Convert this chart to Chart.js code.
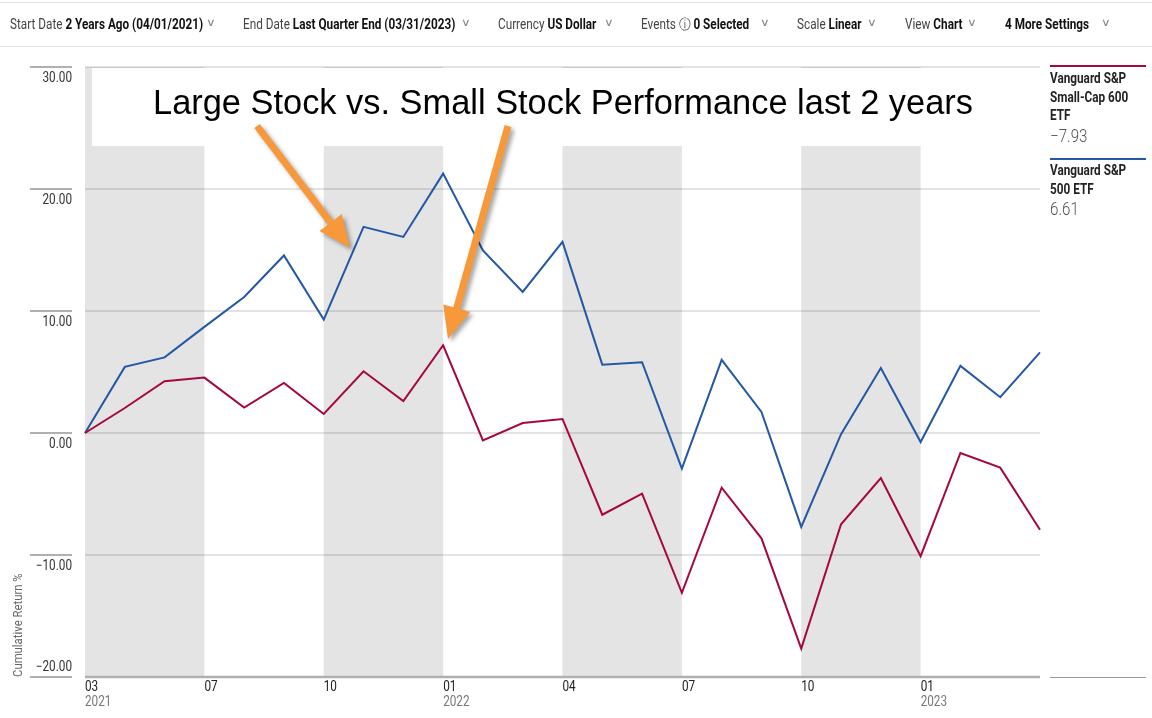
<!DOCTYPE html>
<html>
<head>
<meta charset="utf-8">
<script src="https://cdn.jsdelivr.net/npm/chart.js@4"></script>
<style>
  html, body { margin: 0; padding: 0; background: #fff; }
  body { width: 1152px; height: 718px; position: relative; overflow: hidden;
         font-family: Roboto, "Liberation Sans", sans-serif; }
  #wrap { position: absolute; left: 0; top: 0; width: 1152px; height: 718px; }
  .bar { position: absolute; left: 0; width: 1152px; height: 1px; background: #e3e3e3; }
  .tb { position: absolute; top: 16px; font-size: 14px; color: #444; white-space: nowrap;
        transform: scaleX(0.84); transform-origin: left top; }
  .tb b { color: #111; font-weight: 700; }
  .chev { position: absolute; top: 16px; font-size: 11px; color: #888; transform: scaleX(1.2); }
  .lg { position: absolute; left: 1050px; white-space: nowrap; color: #222;
        transform: scaleX(0.84); transform-origin: left top; }
  .lg .nm { font-size: 14px; font-weight: bold; line-height: 18.5px; }
  .lg .val { font-size: 18px; color: #555; font-weight: 300; }
  .lgbar { position: absolute; left: 1050px; width: 96px; height: 2px; }
</style>
</head>
<body>
<div id="wrap"><canvas id="chart" width="1152" height="718"></canvas></div>

<div class="bar" style="top:2px"></div>
<div class="bar" style="top:46px"></div>
<div class="tb" style="left:10px">Start Date <b>2 Years Ago (04/01/2021)</b></div><div class="chev" style="left:207px">∨</div>
<div class="tb" style="left:243px">End Date <b>Last Quarter End (03/31/2023)</b></div><div class="chev" style="left:462px">∨</div>
<div class="tb" style="left:498px">Currency <b>US Dollar</b></div><div class="chev" style="left:605px">∨</div>
<div class="tb" style="left:641px">Events ⓘ <b>0 Selected</b></div><div class="chev" style="left:761px">∨</div>
<div class="tb" style="left:797px">Scale <b>Linear</b></div><div class="chev" style="left:868px">∨</div>
<div class="tb" style="left:905px">View <b>Chart</b></div><div class="chev" style="left:968px">∨</div>
<div class="tb" style="left:1005px"><b>4 More Settings</b></div><div class="chev" style="left:1102px">∨</div>

<div class="lgbar" style="top:65px;background:#a5093a"></div>
<div class="lg" style="top:69px"><div class="nm">Vanguard S&amp;P<br>Small-Cap 600<br>ETF</div><div class="val">−7.93</div></div>
<div class="lgbar" style="top:158px;background:#2457a4"></div>
<div class="lg" style="top:161px"><div class="nm">Vanguard S&amp;P<br>500 ETF</div><div class="val">6.61</div></div>
<div style="position:absolute;left:1050px;top:677px;width:96px;height:1px;background:#999"></div>

<script>
// =====================
// DATA
// =====================
const months = [
  "2021-03", "2021-04", "2021-05", "2021-06", "2021-07", "2021-08", "2021-09",
  "2021-10", "2021-11", "2021-12", "2022-01", "2022-02", "2022-03", "2022-04",
  "2022-05", "2022-06", "2022-07", "2022-08", "2022-09", "2022-10", "2022-11",
  "2022-12", "2023-01", "2023-02", "2023-03"
];
const smallCap = [0, 2.05, 4.24, 4.54, 2.08, 4.1, 1.56, 5.06, 2.62, 7.19, -0.6, 0.82, 1.15,
  -6.7, -4.97, -13.1, -4.48, -8.63, -17.67, -7.48, -3.69, -10.1, -1.64, -2.84, -7.93];
const largeCap = [0, 5.42, 6.2, 8.7, 11.15, 14.55, 9.3, 16.9, 16.07, 21.26, 14.97, 11.56, 15.66,
  5.6, 5.8, -2.92, 6.0, 1.72, -7.7, -0.1, 5.33, -0.74, 5.5, 2.93, 6.61];

const xTickIndex = [0, 3, 6, 9, 12, 15, 18, 21];
const xTickMonth = ["03", "07", "10", "01", "04", "07", "10", "01"];
const xTickYear = ["2021", "", "", "2022", "", "", "", "2023"];
const bands = [[0, 3], [6, 9], [12, 15], [18, 21]];
const yTicks = [30, 20, 10, 0, -10, -20];

const TITLE = "Large Stock vs. Small Stock Performance last 2 years";
const FONT = 'Roboto, "Liberation Sans", sans-serif';

// =====================
// HELPERS
// =====================
// narrow text, the original uses a condensed face
function narrowText(ctx, txt, x, y, align) {
  const k = 0.84;
  ctx.save();
  ctx.translate(x, y);
  ctx.scale(k, 1);
  ctx.textAlign = align;
  ctx.fillText(txt, 0, 0);
  ctx.restore();
}

function arrow(ctx, x1, y1, x2, y2) {
  const dx = x2 - x1, dy = y2 - y1;
  const len = Math.hypot(dx, dy);
  const ux = dx / len, uy = dy / len;
  const nx = -uy, ny = ux;
  const hl = 32, hw = 14, sw = 3.5;
  const bx = x2 - ux * hl, by = y2 - uy * hl;
  ctx.beginPath();
  ctx.moveTo(x1 + nx * sw, y1 + ny * sw);
  ctx.lineTo(bx + nx * sw, by + ny * sw);
  ctx.lineTo(bx + nx * hw, by + ny * hw);
  ctx.lineTo(x2, y2);
  ctx.lineTo(bx - nx * hw, by - ny * hw);
  ctx.lineTo(bx - nx * sw, by - ny * sw);
  ctx.lineTo(x1 - nx * sw, y1 - ny * sw);
  ctx.closePath();
  ctx.fill();
}

// =====================
// PLUGIN
// =====================
const decor = {
  id: "decor",
  beforeDraw(chart) {
    const { ctx, chartArea: a, scales } = chart;
    ctx.save();
    ctx.fillStyle = "#fff";
    ctx.fillRect(0, 0, chart.width, chart.height);
    ctx.fillStyle = "#e4e4e4";
    bands.forEach(([s, e]) => {
      const x0 = scales.x.getPixelForValue(s);
      const x1 = scales.x.getPixelForValue(e);
      ctx.fillRect(x0, a.top, x1 - x0, a.bottom - a.top);
    });
    // white box behind the title
    ctx.fillStyle = "#fff";
    ctx.fillRect(a.left + 7, a.top + 1, a.right - a.left - 7, 78);
    ctx.restore();
  },
  afterDraw(chart) {
    const { ctx, chartArea: a, scales } = chart;
    ctx.save();

    // y stubs and labels
    ctx.strokeStyle = "#b0b0b0";
    ctx.lineWidth = 2;
    ctx.font = "14px " + FONT;
    ctx.fillStyle = "#333";
    ctx.textBaseline = "middle";
    yTicks.forEach(v => {
      const py = scales.y.getPixelForValue(v);
      ctx.beginPath();
      ctx.moveTo(30, py);
      ctx.lineTo(72, py);
      ctx.stroke();
      const txt = (v < 0 ? "\u2212" : "") + Math.abs(v).toFixed(2);
      narrowText(ctx, txt, 72, v === -20 ? py - 10 : py + 11, "right");
    });

    // bottom axis line
    ctx.lineWidth = 2.5;
    ctx.beginPath();
    ctx.moveTo(a.left, a.bottom);
    ctx.lineTo(a.right, a.bottom);
    ctx.stroke();

    // x labels
    xTickIndex.forEach((idx, i) => {
      const px = scales.x.getPixelForValue(idx);
      ctx.fillStyle = "#222";
      narrowText(ctx, xTickMonth[i], px, a.bottom + 10, "left");
      if (xTickYear[i]) {
        ctx.fillStyle = "#777";
        narrowText(ctx, xTickYear[i], px, a.bottom + 25, "left");
      }
    });

    // axis title
    ctx.save();
    ctx.translate(19, a.bottom);
    ctx.rotate(-Math.PI / 2);
    ctx.font = "13.5px " + FONT;
    ctx.fillStyle = "#666";
    narrowText(ctx, "Cumulative Return %", 0, 0, "left");
    ctx.restore();

    // annotation title
    ctx.font = '34.4px "Liberation Sans", Arial, sans-serif';
    ctx.fillStyle = "#000";
    ctx.textAlign = "left";
    ctx.fillText(TITLE, 153, 105);

    // arrows
    ctx.fillStyle = "#f7993a";
    ctx.shadowColor = "rgba(0,0,0,0.35)";
    ctx.shadowBlur = 4;
    ctx.shadowOffsetX = 3;
    ctx.shadowOffsetY = 3;
    arrow(ctx, 257, 126, 350, 248);
    arrow(ctx, 508, 126, 448, 339);

    ctx.restore();
  }
};

// =====================
// CHART
// =====================
new Chart(document.getElementById("chart"), {
  type: "line",
  data: {
    labels: months,
    datasets: [
      { label: "Vanguard S&P Small-Cap 600 ETF", data: smallCap, borderColor: "#a5093a" },
      { label: "Vanguard S&P 500 ETF", data: largeCap, borderColor: "#2457a4" }
    ]
  },
  options: {
    responsive: false,
    animation: false,
    layout: { padding: { left: 85, right: 112, top: 67, bottom: 41 } },
    elements: {
      line: { borderWidth: 2, tension: 0 },
      point: { radius: 0, hoverRadius: 0 }
    },
    plugins: { legend: { display: false }, tooltip: { enabled: false } },
    scales: {
      x: {
        type: "category",
        offset: false,
        grid: { display: false },
        border: { display: false },
        ticks: { display: false },
        afterFit: s => { s.height = 0; }
      },
      y: {
        min: -20,
        max: 30,
        ticks: { display: false, stepSize: 10 },
        grid: { color: "rgba(0,0,0,0.11)", lineWidth: 2, drawTicks: false },
        border: { display: false },
        afterFit: s => { s.width = 0; }
      }
    }
  },
  plugins: [decor]
});
</script>
</body>
</html>
